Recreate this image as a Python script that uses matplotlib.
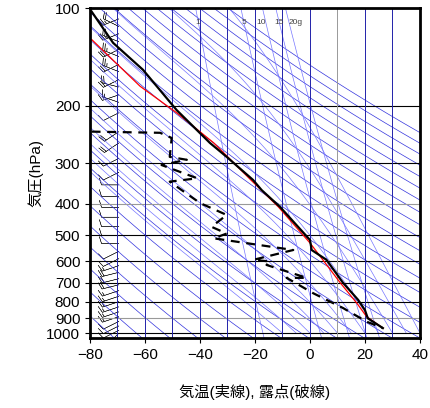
import numpy as np
import matplotlib
matplotlib.use("Agg")
from matplotlib import pyplot as plt

plt.rcParams['font.family'] = ['Liberation Sans', 'Noto Sans CJK JP', 'DejaVu Sans']

# temperature (solid black)
t_p = [102.6, 128, 155, 206, 260, 287, 338, 363, 409, 517, 555, 595, 700, 790, 850, 900, 965]
t_t = [-79.4, -71.6, -60.7, -48.5, -36.4, -30.3, -20.7, -17.6, -10.9, 0.0, 0.6, 6.0, 12.0, 17.5, 20.0, 21.0, 26.5]
# parcel (red)
r_p = [125, 174, 210, 260, 338, 409, 528, 700, 808, 890, 965]
r_t = [-79.4, -61.8, -48.5, -35.0, -21.5, -11.5, 0.0, 11.0, 17.0, 20.6, 26.5]
# dew point (dashed)
d_p = [240, 242, 251, 287, 293, 304, 334, 342, 398, 433, 471, 494, 511, 555, 595, 602, 617, 676, 676, 754, 837, 922, 965]
d_t = [-79.4, -54.5, -50.3, -51.0, -44.8, -54.0, -41.0, -51.0, -40.0, -30.3, -35.8, -30.3, -35.0,
       -6.1, -20.6, -14.5, -15.8, -1.2, -8.5, 1.2, 12.0, 20.6, 26.5]
# wind barbs
w_p = [102, 108, 114, 120, 127, 134, 141, 149, 157, 166, 175, 185, 195, 210, 240, 260, 290, 320,
       350, 380, 410, 440, 470, 500, 530, 560, 590, 620, 650, 680, 710, 740, 770, 800, 830, 860,
       890, 920, 950, 980, 1000]
w_u = [20, 25, 20, 25, 25, 20, 25, 20, 25, 20, 20, 15, 15, 10, 15, 15, 10, 10,
       10, 10, 10, 10, 10, 10, 10, 10, 10, 15, 20, 20, 20, 15, 15, 15, 15, 15,
       15, 10, 10, 10, 5]
w_v = [-10, 10, -10, 10, -10, 10, -10, 10, -10, 10, -5, 5, -5, 5, 10, 10, 5, 5,
       0, 0, 0, 0, 0, 0, 0, 5, 5, 5, 5, 5, 5, 5, 5, 5, 5, 5,
       5, 5, 5, 5, 5]
mix_labels = [1, 5, 10, 15, 20]

fig = plt.figure(figsize=(4.31, 4.08), dpi=100)
ax = fig.add_axes([90/431, 1-338/408, 330/431, 330/408])
ax.set_yscale('log')
ax.set_xlim(-80, 40)
ax.set_ylim(1035, 100)

pp = np.logspace(np.log10(90), np.log10(1100), 200)
# dry adiabats
for th in range(190, 480, 10):
    ax.plot(th*(pp/1000)**0.286 - 273.15, pp, color='#3333dd', lw=0.5)

# moist adiabats
def es(t):
    return 6.112*np.exp(17.67*t/(t+243.5))
for t0 in range(-10, 41, 5):
    ps = np.linspace(1000, 90, 400)
    tt = [float(t0)]
    for i in range(1, len(ps)):
        t = tt[-1]; p = ps[i-1]
        T = t + 273.15
        rs = 0.622*es(t)/(p - es(t))
        L = 2.5e6
        dtdp = (287*T + L*rs) / (p*(1004 + L*L*rs*0.622/(287*T*T)))
        tt.append(t + dtdp*(ps[i]-p))
    ax.plot(tt, ps, color='#7777ff', lw=0.5)

# mixing ratio lines
def tdew(w, p):
    e = w*p/(622+w)
    return 243.5*np.log(e/6.112)/(17.67-np.log(e/6.112))
for w in [1, 5, 10, 15, 20]:
    ax.plot(tdew(w, pp), pp, color='#7777ff', lw=0.5)
offs = {1: 0, 5: 0, 10: -1.5, 15: 0, 20: 2.5}
for w in mix_labels:
    ax.text(tdew(w, 110) + offs[w], 112, str(w) + ('g' if w == 20 else ''), fontsize=6,
            color='#444444', ha='center')

yt = [100, 200, 300, 400, 500, 600, 700, 800, 900, 1000]
for p in yt:
    ax.axhline(p, color='#999999' if p in (400, 900) else 'black', lw=0.8)
for t in range(-70, 40, 10):
    ax.axvline(t, color='#999999' if t == 10 else '#2222aa', lw=0.7)

ax.plot(r_t, r_p, color='red', lw=0.9)
ax.plot(t_t, t_p, color='black', lw=1.6)
ax.plot(d_t, d_p, color='black', lw=1.6, ls=(0, (4, 3)))
ax.barbs([-69.5]*len(w_p), w_p, w_u, w_v, length=5, linewidth=0.35, color='#333333')

ax.set_yticks(yt)
ax.set_yticklabels([str(p) for p in yt])
ax.minorticks_off()
ax.set_xticks(range(-80, 41, 20))
ax.tick_params(labelsize=11, direction='out')
for s in ax.spines.values():
    s.set_linewidth(2)
ax.set_ylabel('気圧(hPa)', fontsize=11, labelpad=2)
ax.set_xlabel('気温(実線), 露点(破線)', fontsize=11, labelpad=16)
fig.savefig('out.png', dpi=100)
